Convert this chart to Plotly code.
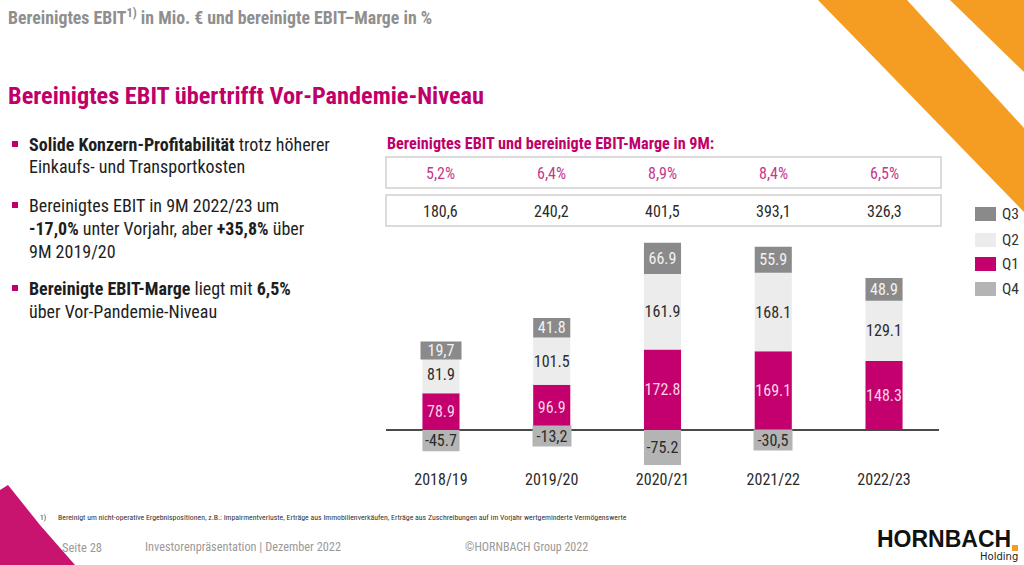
import plotly.graph_objects as go

# ---------------- data ----------------
years = ["2018/19", "2019/20", "2020/21", "2021/22", "2022/23"]
q1 = [78.9, 96.9, 172.8, 169.1, 148.3]
q2 = [81.9, 101.5, 161.9, 168.1, 129.1]
q3 = [19.7, 41.8, 66.9, 55.9, 48.9]
q4 = [-45.7, -13.2, -75.2, -30.5, None]
q1_labels = ["78.9", "96.9", "172.8", "169.1", "148.3"]
q2_labels = ["81.9", "101.5", "161.9", "168.1", "129.1"]
q3_labels = ["19,7", "41.8", "66.9", "55.9", "48.9"]
q4_labels = ["-45.7", "-13,2", "-75.2", "-30,5", ""]
margin_9m = [5.2, 6.4, 8.9, 8.4, 6.5]
ebit_9m = [180.6, 240.2, 401.5, 393.1, 326.3]

# ---------------- style ----------------
W, H = 1024, 565
FONT = "Roboto Condensed, Liberation Sans Narrow, sans-serif"
PINK = "#c0006a"
PINK_LIGHT = "#c8378c"
C_Q1 = "#c4006f"
C_Q2 = "#ececec"
C_Q3 = "#8a8a8a"
C_Q4 = "#b4b4b4"
DARK = "#2b2b2b"
GREY_TXT = "#8f8f8f"

PX_PER_UNIT = 0.466
Y_ZERO = 430
PLOT_TOP, PLOT_BOTTOM = 230, 468
X_LEFT, X_RIGHT = 385.6, 939.4


def px(x):
    return x / W


def py(y):
    return 1 - y / H


SMALL = 16  # px: segments smaller than this get a label box

fig = go.Figure()


def seg_text(vals, labels):
    return [lab if (v is not None and abs(v) * PX_PER_UNIT >= SMALL) else "" for v, lab in zip(vals, labels)]


for name, vals, labels, col, tcol in [
    ("Q1", q1, q1_labels, C_Q1, "#f7d3e6"),
    ("Q2", q2, q2_labels, C_Q2, DARK),
    ("Q3", q3, q3_labels, C_Q3, "#f2f2f2"),
    ("Q4", q4, q4_labels, C_Q4, DARK),
]:
    fig.add_trace(go.Bar(
        x=years, y=vals, name=name, marker=dict(color=col, line=dict(width=0)),
        text=seg_text(vals, labels), textposition="inside", insidetextanchor="middle",
        textangle=0, constraintext="none",
        textfont=dict(family=FONT, size=16, color=tcol),
        showlegend=False, hoverinfo="skip", width=0.335,
    ))

annotations = []
shapes = []

# label boxes for small segments
for i, yr in enumerate(years):
    base = q1[i] + q2[i]
    if q3[i] is not None and abs(q3[i]) * PX_PER_UNIT < SMALL:
        annotations.append(dict(x=yr, y=base + q3[i] / 2, xref="x", yref="y", text=q3_labels[i],
                                showarrow=False, bgcolor=C_Q3, width=38, height=15,
                                xanchor="center", yanchor="middle",
                                font=dict(family=FONT, size=16, color="#f2f2f2")))
    if q4[i] is not None and abs(q4[i]) * PX_PER_UNIT < SMALL:
        annotations.append(dict(x=yr, y=q4[i] / 2, xref="x", yref="y", text=q4_labels[i],
                                showarrow=False, bgcolor=C_Q4, width=36, height=18, yshift=-3,
                                xanchor="center", yanchor="middle",
                                font=dict(family=FONT, size=16, color=DARK)))

# table above chart
for (y0, y1) in [(157, 188), (195, 226)]:
    shapes.append(dict(type="rect", xref="paper", yref="paper", x0=px(386), x1=px(941), y0=py(y1), y1=py(y0),
                       line=dict(color="#cfcfcf", width=1.5), fillcolor="rgba(0,0,0,0)"))
for i, yr in enumerate(years):
    annotations.append(dict(x=yr, y=py(173), xref="x", yref="paper", showarrow=False,
                            xanchor="center", yanchor="middle",
                            text=f"{margin_9m[i]:.1f}%".replace(".", ","),
                            font=dict(family=FONT, size=16, color=PINK_LIGHT)))
    annotations.append(dict(x=yr, y=py(211), xref="x", yref="paper", showarrow=False,
                            xanchor="center", yanchor="middle",
                            text=f"{ebit_9m[i]:.1f}".replace(".", ","),
                            font=dict(family=FONT, size=16, color=DARK)))


def txt(x, y, text, size, color, anchor="left", bold=False):
    if bold:
        text = f"<b>{text}</b>"
    annotations.append(dict(x=px(x), y=py(y), xref="paper", yref="paper", text=text, showarrow=False,
                            xanchor=anchor, yanchor="middle", align="left",
                            font=dict(family=FONT, size=size, color=color)))


txt(6, 17, "Bereinigtes EBIT<sup>1)</sup> in Mio. € und bereinigte EBIT–Marge in %", 17.8, GREY_TXT, bold=True)
txt(6, 95, "Bereinigtes EBIT übertrifft Vor-Pandemie-Niveau", 24.3, PINK, bold=True)
txt(385, 143, "Bereinigtes EBIT und bereinigte EBIT-Marge in 9M:", 16.2, PINK, bold=True)

bullet_lines = [
    (144, "<b>Solide Konzern-Profitabilität</b> trotz höherer"),
    (167, "Einkaufs- und Transportkosten"),
    (205, "Bereinigtes EBIT in 9M 2022/23 um"),
    (228, "<b>-17,0%</b> unter Vorjahr, aber <b>+35,8%</b> über"),
    (251, "9M 2019/20"),
    (288, "<b>Bereinigte EBIT-Marge</b> liegt mit <b>6,5%</b>"),
    (311, "über Vor-Pandemie-Niveau"),
]
for y, t in bullet_lines:
    txt(27, y, t, 18, "#1e1e1e")
for y in [144, 205, 288]:
    shapes.append(dict(type="rect", xref="paper", yref="paper", x0=px(12), x1=px(18), y0=py(y + 3), y1=py(y - 3),
                       fillcolor=PINK, line=dict(width=0)))

# legend (custom)
for y, name, col in [(214, "Q3", C_Q3), (240, "Q2", C_Q2), (264, "Q1", C_Q1), (289, "Q4", C_Q4)]:
    shapes.append(dict(type="rect", xref="paper", yref="paper", x0=px(975), x1=px(996), y0=py(y + 7), y1=py(y - 7),
                       fillcolor=col, line=dict(width=0)))
    txt(1000, y, name, 15.5, "#333333")

# footnote & footer
txt(38, 517, "1)", 7.5, "#333333")
txt(56, 517, "Bereinigt um nicht-operative Ergebnispositionen, z.B.: Impairmentverluste, Erträge aus Immobilienverkäufen, "
    "Erträge aus Zuschreibungen auf im Vorjahr wertgeminderte Vermögenswerte", 7.8, "#333333")
txt(60, 547, "Seite 28", 12.5, "#9a9a9a")
txt(143, 547, "Investorenpräsentation | Dezember 2022", 12.3, "#9a9a9a")
txt(463, 547, "©HORNBACH Group 2022", 12, "#9a9a9a")
annotations.append(dict(x=px(1013), y=py(539), xref="paper", yref="paper", text="<b>HORNBACH</b>", showarrow=False,
                        xanchor="right", yanchor="middle",
                        font=dict(family="Liberation Sans, Arial, sans-serif", size=23, color="#111111")))
annotations.append(dict(x=px(1020), y=py(556), xref="paper", yref="paper", text="Holding", showarrow=False,
                        xanchor="right", yanchor="middle",
                        font=dict(family="DejaVu Sans, sans-serif", size=10, color="#222222")))
shapes.append(dict(type="rect", xref="paper", yref="paper", x0=px(1012), x1=px(1018), y0=py(551), y1=py(545),
                   fillcolor="#f39c1f", line=dict(width=0)))


def path(points):
    return "M " + " L ".join(f"{px(x):.5f},{py(y):.5f}" for x, y in points) + " Z"


shapes.append(dict(type="path", xref="paper", yref="paper", layer="below",
                   path=path([(818, 0), (907, 0), (1024, 128), (1024, 212)]),
                   fillcolor="#f59d22", line=dict(width=0)))
shapes.append(dict(type="path", xref="paper", yref="paper", layer="below",
                   path=path([(950, 0), (1024, 0), (1024, 72)]),
                   fillcolor="#f59d22", line=dict(width=0)))
shapes.append(dict(type="path", xref="paper", yref="paper", layer="below",
                   path=path([(0, 490), (8, 485), (40, 525), (75, 565), (0, 565)]),
                   fillcolor="#c8136f", line=dict(width=0)))

y_max = (Y_ZERO - PLOT_TOP) / PX_PER_UNIT
y_min = -(PLOT_BOTTOM - Y_ZERO) / PX_PER_UNIT

fig.update_layout(
    width=W, height=H, margin=dict(l=0, r=0, t=0, b=0),
    paper_bgcolor="white", plot_bgcolor="rgba(0,0,0,0)",
    barmode="relative", showlegend=False,
    font=dict(family=FONT),
    xaxis=dict(domain=[px(X_LEFT), px(X_RIGHT)], range=[-0.5, 4.5], showgrid=False, zeroline=False,
               showline=False, ticks="", tickfont=dict(family=FONT, size=16, color=DARK), fixedrange=True),
    yaxis=dict(domain=[py(PLOT_BOTTOM), py(PLOT_TOP)], range=[y_min, y_max], showgrid=False,
               zeroline=True, zerolinecolor="#4a4a4a", zerolinewidth=1.5, showticklabels=False,
               ticks="", showline=False, fixedrange=True),
    annotations=annotations, shapes=shapes,
)

fig.write_html("out.html", config={"displayModeBar": False},
               post_script="document.body.style.margin='0px';")
